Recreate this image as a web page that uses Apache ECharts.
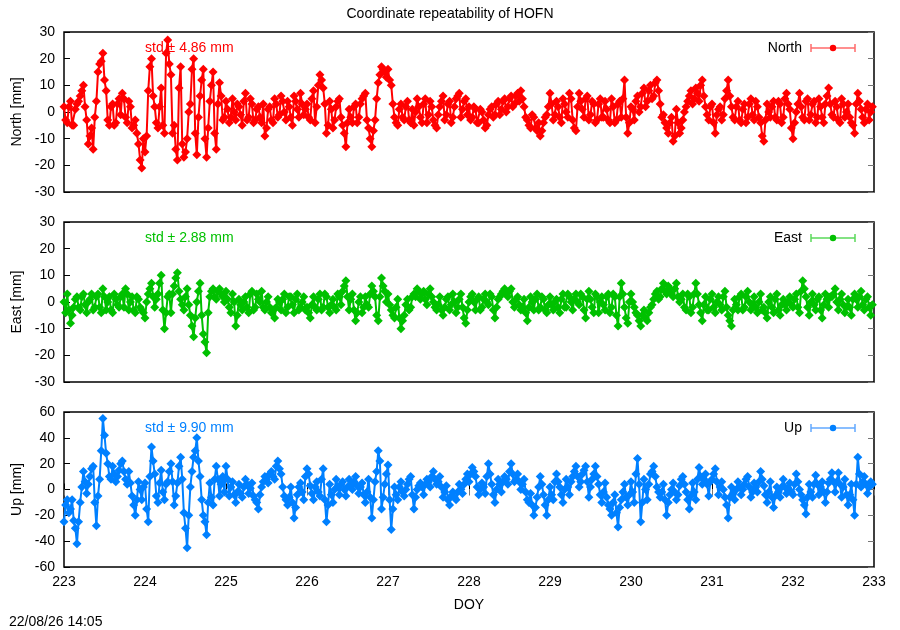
<!DOCTYPE html>
<html><head><meta charset="utf-8">
<script src="https://cdn.jsdelivr.net/npm/echarts@6/dist/echarts.min.js"></script>
<style>html,body{margin:0;padding:0;background:#fff}#c{width:900px;height:630px}</style>
</head><body><div id="c"></div>
<script>
// Sample times: main samples at DOY 223.00 + k*0.04, mid samples 0.02 day later
const DOY_START = 223;
const DOY_STEP = 0.04;
const MID_OFFSET = 0.02;
const xTicksMin = 223, xTicksMax = 233, xTickStep = 1;

// North [mm]
const north = [
 2,-4,4,-5,3,6,10,-3,-9,-14,4,18,22,8,-5,3,-4,5,7,-2,4,-6,-3,-12,-21,
 -15,8,20,2,-6,9,-8,27,14,-5,-18,17,-17,-10,3,20,-16,6,16,-17,4,15,-14,11,-3,
 4,-4,5,-3,2,-5,7,-2,3,-3,2,-4,-9,1,-3,5,-2,6,0,4,-2,6,1,7,-1,
 3,-3,8,2,14,9,-8,4,-6,2,5,-5,-13,1,-4,3,-2,5,7,-6,-13,-3,11,17,15,
 16,10,-2,-5,3,-3,4,-4,-5,5,-2,3,-4,4,-3,-6,2,6,-1,4,-2,5,7,1,5,
 2,-2,1,-4,0,-6,-1,2,-1,4,1,5,2,6,3,7,8,2,-3,-6,-2,-7,-9,-4,-1,
 7,-3,4,-2,5,0,7,-3,-7,7,1,5,-3,4,-4,3,-2,4,-3,5,-4,3,-2,12,-8,
 2,-3,6,2,9,4,10,6,12,3,-1,-6,-4,-11,1,-8,-3,2,6,3,9,4,12,2,-3,
 3,-8,1,-3,5,12,2,-3,4,-4,3,-2,5,-3,2,-4,-11,3,-2,4,-3,3,-2,7,1,
 -10,0,7,-2,4,-3,3,-4,5,-2,3,9,-1,4,-3,5,-2,3,-4,-8,7,1,-4,3,0
];
const northMid = [
 -3,2,-5,1,4,8,2,-12,-6,-2,15,19,12,-3,2,-5,3,-1,5,-4,2,-5,-8,-18,-10,
 -9,17,6,-4,2,-5,22,18,-8,-14,9,-12,-15,0,16,-8,-2,12,-10,-6,10,-8,3,6,-2,
 1,-2,0,3,-1,4,-3,5,-4,1,-2,3,-6,2,-4,3,-1,4,-3,2,-5,4,-2,3,1,
 -2,5,-4,10,12,3,-5,1,-3,4,-2,-8,-4,-2,2,-4,3,6,-3,-10,-7,5,14,16,13,
 12,3,-4,1,-2,2,-3,1,0,2,-4,5,-1,2,-5,-1,4,-3,3,-4,2,6,-2,4,-1,
 -3,2,-4,1,-3,-5,1,-2,3,-1,4,0,5,2,6,4,5,-2,-5,-1,-6,-4,-7,-2,2,
 3,-1,2,-4,3,-2,5,-6,2,4,-2,6,-1,3,-3,5,-2,1,-4,2,-3,4,5,-2,-4,
 1,4,0,7,2,8,5,11,8,-2,-4,-8,-2,-9,-4,-6,0,4,8,5,7,10,6,-1,2,
 -4,-1,2,-1,8,6,-2,2,-3,1,-4,3,-1,4,-2,-9,-3,0,2,-2,4,-4,5,3,-6,
 -4,3,2,-3,5,-1,4,-2,2,-4,6,3,-2,2,-4,3,0,-2,-5,3,4,-2,1,-3,2
];
// East [mm]
const east = [
 0,3,-8,-2,2,-3,3,-4,1,-3,2,-2,5,-3,2,-4,1,-2,3,5,-3,2,-4,1,-3,
 -6,3,7,-2,3,10,-10,2,-4,6,11,1,-3,5,-5,-13,0,7,-12,-19,2,5,1,5,2,
 4,-2,3,-9,1,-3,2,-4,4,-2,1,4,-3,2,-4,-6,1,-3,3,-2,2,-4,3,-2,2,
 -2,-6,2,-3,3,-2,2,-4,1,-3,2,4,8,-3,3,-7,0,-4,2,-2,6,2,-7,9,4,
 3,-3,-6,1,-10,-5,1,-2,3,5,1,4,-1,5,0,-3,2,-5,1,-3,3,-4,1,-2,-8,
 0,3,-3,2,-2,3,-1,2,-6,1,3,5,2,5,-2,2,-3,1,-7,2,-3,3,-2,1,-4,
 2,-3,1,-4,3,-2,2,-3,3,-1,2,-6,4,-2,3,-4,2,-3,3,-2,2,-9,7,-2,-8,
 3,-2,-5,-9,-3,-7,-2,1,4,2,7,3,5,2,7,0,3,-3,2,-2,7,-1,-7,2,-3,
 3,-4,2,-3,4,-5,-9,1,-3,3,-2,4,-3,2,-4,3,-2,-6,2,-4,3,-5,1,-3,2,
 -2,3,-4,8,2,-5,3,-3,2,-6,3,-2,2,5,-3,3,-4,1,-5,3,-2,4,-3,2,-5
];
const eastMid = [
 -4,-3,-5,1,-2,2,-1,0,3,-2,3,-4,2,0,-3,3,-1,2,-2,3,0,-3,2,-2,-4,
 0,5,2,1,7,-3,-4,3,3,9,4,-1,2,-1,-9,-6,4,-5,-15,-4,4,2,4,3,0,
 1,-4,0,-5,-1,0,-2,3,-3,3,0,-2,0,-2,-3,-2,0,1,-4,2,-1,1,-3,0,-3,
 -4,-1,-2,1,-3,3,-2,-1,-2,3,-1,6,2,1,-3,-4,2,-2,-1,3,4,-5,2,6,0,
 -1,-5,-2,-6,-7,-1,-3,2,2,4,3,1,3,2,-2,-1,-3,-2,2,-1,0,-2,3,-6,-3,
 2,0,1,-3,1,0,3,-3,-2,2,4,3,4,0,1,-1,-2,-4,-2,0,1,-3,2,-3,-1,
 -1,0,-2,1,-2,3,0,1,0,3,-3,1,1,-4,2,0,-1,2,-4,3,-5,2,3,-6,0,
 0,-4,-7,-5,-6,-4,-1,3,1,5,4,6,3,5,2,1,-2,3,-4,3,3,-4,-1,-3,1,
 -2,0,-1,2,-2,-7,-3,-1,2,-3,2,0,-1,-2,0,-3,-4,0,-2,1,-3,-1,-1,0,-1,
 1,-2,4,5,-2,0,-1,1,-3,-1,1,2,3,0,1,-1,-2,-2,1,1,2,-1,1,-2,-1
];
// Up [mm]
const up = [
 -25,-8,-15,-24,-42,-10,14,-3,10,18,-28,8,55,28,10,18,6,15,22,8,14,-5,-20,6,-8,
 5,-25,33,12,-10,15,-8,6,20,-12,5,25,-18,-45,2,25,40,10,-20,-35,5,-12,18,-5,10,
 18,-5,6,-10,4,-6,8,-3,5,-8,-15,2,10,5,14,8,22,12,-5,-12,2,-22,-4,5,-8,
 16,3,-8,6,-5,16,-25,4,-10,8,-4,6,-5,8,0,10,-3,5,-10,8,-22,6,30,-15,4,
 19,-31,2,-8,6,-5,4,10,-15,0,5,-4,8,2,14,4,10,-6,3,-12,-2,-8,4,-3,8,
 6,17,10,-4,5,-3,20,4,-10,8,-2,10,4,20,6,12,0,8,-8,-3,-20,-6,10,-4,-20,
 2,-8,12,2,-10,8,-4,10,18,2,12,18,-6,8,18,4,-10,5,-12,-20,-4,-29,-8,4,-12,
 6,-10,24,-25,8,-8,12,18,2,-6,4,-20,-4,5,-8,3,10,-2,-15,5,-8,17,4,12,-5,
 8,16,-4,6,-6,-22,2,-8,6,-4,4,10,-6,5,-2,14,3,-10,6,-14,2,-6,8,-3,5,
 -4,12,0,-8,-19,4,-6,11,-4,6,-10,5,13,-2,13,-6,8,-12,4,-20,25,2,10,-3,6
];
const upMid = [
 -12,-18,-8,-30,-25,2,6,4,16,-10,-5,30,42,20,8,12,10,20,14,4,5,-12,-8,0,2,
 -15,10,22,-5,5,-2,4,14,6,-5,18,8,-30,-20,14,30,22,-8,-25,-10,-6,8,8,4,-2,
 8,2,-4,-2,-3,2,4,1,-5,-10,-4,6,8,12,10,18,16,2,-8,-6,-10,-14,2,-2,10,
 12,-3,2,-2,8,-8,-12,-4,0,2,4,0,2,4,6,3,2,-4,-2,-6,-8,14,22,-6,12,
 -8,-15,-4,2,-2,0,8,-4,-6,3,2,4,6,10,8,6,2,-2,-8,-5,-6,-2,0,4,12,
 12,14,2,0,2,10,12,-4,0,4,6,8,14,12,8,6,4,-2,-10,-12,-14,2,4,-12,-8,
 -4,6,6,-4,0,2,6,14,10,6,15,6,2,12,10,-4,-2,-6,-15,-10,-18,-14,-2,-6,-4,
 -2,12,4,-10,0,4,14,10,-2,-2,-8,-10,0,-2,-4,8,4,-8,-5,-2,8,10,8,4,6,
 12,6,2,0,-12,-6,-3,0,2,0,8,2,-2,2,6,8,-4,-2,-6,-5,-2,2,2,1,-2,
 4,6,-4,-12,-6,-2,4,4,2,-2,-2,8,6,6,4,2,-4,-4,-8,4,12,6,4,2,4
];

const seriesNames = ['North','East','Up'];
const axisNames = ['North [mm]','East [mm]','Up [mm]'];
const stdLabels = ['std \u00b1 4.86 mm','std \u00b1 2.88 mm','std \u00b1 9.90 mm'];
const yLimits = [30, 30, 60];
const yIntervals = [10, 10, 20];
const titleText = 'Coordinate repeatability of HOFN';
const xAxisName = 'DOY';
const stamp = '22/08/26 14:05';

const colors = ['#ff0000', '#00c000', '#0080ff'];
const lightColors = ['#ff6a6a', '#5ad85a', '#62a8ff'];
const FONT = '"Liberation Sans", Arial, sans-serif';
const tops = [32, 222, 412];
const heights = [160, 160, 155];
const LEFT = 64, WIDTH = 810;

const mainData = [north, east, up];
const midData = [northMid, eastMid, upMid];
function pairs(main, mid){
  const out = [];
  for (let k = 0; k < main.length; k++) {
    out.push([DOY_START + k*DOY_STEP, main[k]]);
    out.push([DOY_START + k*DOY_STEP + MID_OFFSET, mid[k]]);
  }
  return out;
}

const grids = [], xAxes = [], yAxes = [], series = [], graphics = [];
for (let i = 0; i < 3; i++) {
  grids.push({left: LEFT, top: tops[i], width: WIDTH, height: heights[i], show: true,
    borderColor: '#000', borderWidth: 1.5, backgroundColor: 'transparent'});
  xAxes.push({gridIndex: i, type: 'value', min: xTicksMin, max: xTicksMax, interval: xTickStep,
    axisLine: {show: false}, splitLine: {show: false},
    axisTick: {show: i === 2, inside: true, length: 6, lineStyle: {color: '#000', width: 1}},
    axisLabel: {show: i === 2, fontSize: 14, color: '#000', margin: 8, fontFamily: FONT},
    name: i === 2 ? xAxisName : '', nameLocation: 'middle', nameGap: 31,
    nameTextStyle: {fontSize: 14, color: '#000', fontFamily: FONT}});
  yAxes.push({gridIndex: i, type: 'value', min: -yLimits[i], max: yLimits[i], interval: yIntervals[i],
    axisLine: {show: false}, splitLine: {show: false},
    axisTick: {show: true, inside: true, length: 6, lineStyle: {color: '#000', width: 1}},
    axisLabel: {fontSize: 14, color: '#000', margin: 9, fontFamily: FONT},
    name: axisNames[i], nameLocation: 'middle', nameGap: 40,
    nameTextStyle: {fontSize: 14, color: '#000', fontFamily: FONT}});
  yAxes.push({gridIndex: i, type: 'value', position: 'right', min: -yLimits[i], max: yLimits[i], interval: yIntervals[i],
    axisLine: {show: false}, splitLine: {show: false}, axisLabel: {show: false},
    axisTick: {show: true, inside: true, length: 6, lineStyle: {color: '#777', width: 1}}});
  series.push({type: 'line', name: seriesNames[i], xAxisIndex: i, yAxisIndex: 2*i,
    data: pairs(mainData[i], midData[i]), symbol: 'diamond', symbolSize: 9, showSymbol: true,
    itemStyle: {color: colors[i]}, lineStyle: {color: colors[i], width: 2},
    clip: true, animation: false, z: 3});

  const ly = tops[i] + 16;
  graphics.push({type: 'text', x: 145, y: ly, z: 10,
    style: {text: stdLabels[i], fill: colors[i], font: '14px ' + FONT,
      align: 'left', verticalAlign: 'middle', textAlign: 'left', textVerticalAlign: 'middle'}});
  graphics.push({type: 'text', x: 802, y: ly, z: 10,
    style: {text: seriesNames[i], fill: '#000', font: '14px ' + FONT,
      align: 'right', verticalAlign: 'middle', textAlign: 'right', textVerticalAlign: 'middle'}});
  graphics.push({type: 'line', z: 10, shape: {x1: 811, y1: ly, x2: 855, y2: ly},
    style: {stroke: lightColors[i], lineWidth: 1.5}});
  graphics.push({type: 'line', z: 10, shape: {x1: 811, y1: ly-4, x2: 811, y2: ly+4},
    style: {stroke: lightColors[i], lineWidth: 1.5}});
  graphics.push({type: 'line', z: 10, shape: {x1: 855, y1: ly-4, x2: 855, y2: ly+4},
    style: {stroke: lightColors[i], lineWidth: 1.5}});
  graphics.push({type: 'circle', z: 11, shape: {cx: 833, cy: ly, r: 3.2},
    style: {fill: colors[i]}});
}
// mirrored ticks on top of bottom panel
xAxes.push({gridIndex: 2, type: 'value', position: 'top', min: xTicksMin, max: xTicksMax, interval: xTickStep,
  axisLine: {show: false}, splitLine: {show: false}, axisLabel: {show: false},
  axisTick: {show: true, inside: true, length: 6, lineStyle: {color: '#777', width: 1}}});

graphics.push({type: 'text', x: 9, y: 622, z: 10,
  style: {text: stamp, fill: '#000', font: '14px ' + FONT,
    align: 'left', verticalAlign: 'middle', textAlign: 'left', textVerticalAlign: 'middle'}});

const chart = echarts.init(document.getElementById('c'), null, {renderer: 'canvas'});
chart.setOption({
  backgroundColor: '#fff',
  animation: false,
  title: {text: titleText, left: 'center', top: 2,
    textStyle: {fontSize: 14, fontWeight: 'normal', color: '#000', fontFamily: FONT}},
  grid: grids, xAxis: xAxes, yAxis: yAxes, series: series, graphic: graphics
});
</script></body></html>
